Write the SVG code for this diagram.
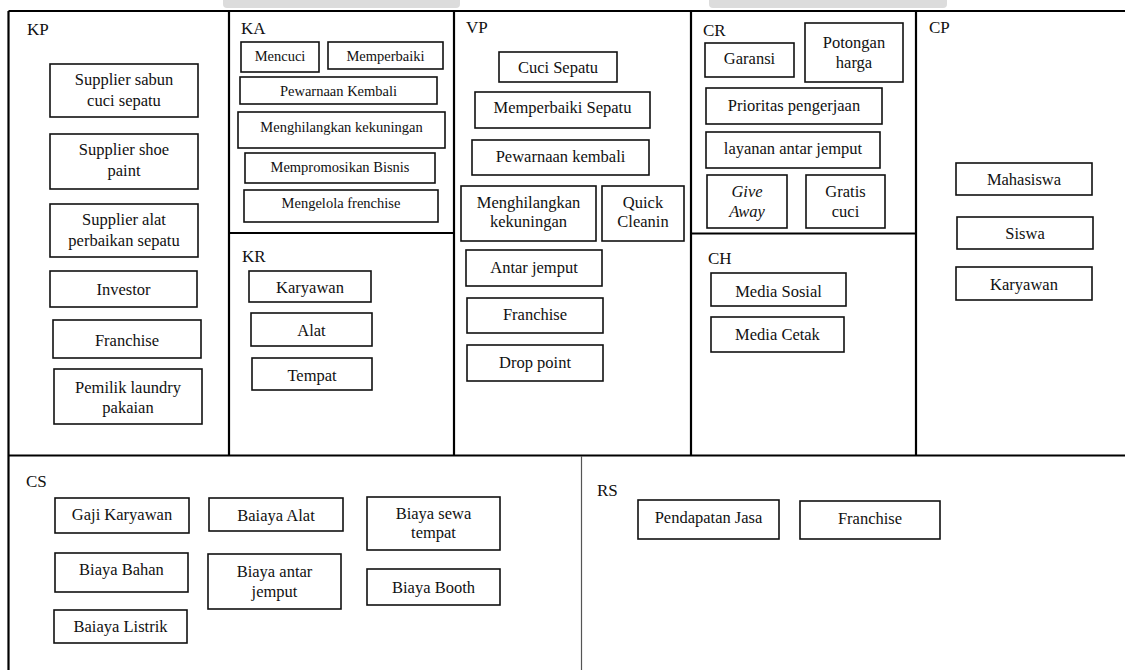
<svg xmlns="http://www.w3.org/2000/svg" width="1125" height="670" viewBox="0 0 1125 670">
<style>
.bg{fill:#fff}
.tab{fill:#dcdcdc}
.grid{stroke:#000;stroke-width:2.2;fill:none}
.thin{stroke:#555;stroke-width:1.2;fill:none}
.box{fill:#fff;stroke:#111;stroke-width:1.6}
.t{font-family:"Liberation Serif","Times New Roman",serif;font-size:16.5px;fill:#111;text-anchor:middle}
.s{font-size:14.5px}
.i{font-style:italic}
.lbl{font-family:"Liberation Serif","Times New Roman",serif;font-size:17px;fill:#111}
</style>
<rect class="bg" x="0" y="0" width="1125" height="670"/>
<path class="tab" d="M223 0H460V4Q460 8 456 8H227Q223 8 223 4Z"/>
<path class="tab" d="M709 0H947V4Q947 8 943 8H713Q709 8 709 4Z"/>
<g id="grid">
<path class="grid" d="M8.5 11H1125M8.5 11V670M8.5 455.5H1125M229 11V455.5M454 11V455.5M691 11V455.5M916 11V455.5M229 233H454M691 233.5H916"/>
<path class="thin" d="M581.5 456V670"/>
</g>
<g id="labels">
<text class="lbl" x="27" y="35">KP</text>
<text class="lbl" x="241" y="34">KA</text>
<text class="lbl" x="466" y="33">VP</text>
<text class="lbl" x="703" y="36">CR</text>
<text class="lbl" x="929" y="33">CP</text>
<text class="lbl" x="242" y="262">KR</text>
<text class="lbl" x="708" y="264">CH</text>
<text class="lbl" x="26" y="487">CS</text>
<text class="lbl" x="597" y="496">RS</text>
</g>
<g id="connectors"/>
<g id="kp-1"><rect class="box" x="50" y="64" width="148" height="53"/><text class="t" x="124" y="85">Supplier sabun</text><text class="t" x="124" y="106">cuci sepatu</text></g>
<g id="kp-2"><rect class="box" x="50" y="134" width="148" height="55"/><text class="t" x="124" y="155">Supplier shoe</text><text class="t" x="124" y="176">paint</text></g>
<g id="kp-3"><rect class="box" x="50" y="204" width="148" height="53"/><text class="t" x="124" y="225">Supplier alat</text><text class="t" x="124" y="246">perbaikan sepatu</text></g>
<g id="kp-4"><rect class="box" x="50" y="271" width="147" height="36"/><text class="t" x="123.5" y="295">Investor</text></g>
<g id="kp-5"><rect class="box" x="53" y="320" width="148" height="38"/><text class="t" x="127" y="345.5">Franchise</text></g>
<g id="kp-6"><rect class="box" x="54" y="369" width="148" height="55"/><text class="t" x="128" y="393">Pemilik laundry</text><text class="t" x="128" y="413">pakaian</text></g>
<g id="ka-1"><rect class="box" x="241" y="42" width="78" height="30"/><text class="t s" x="280" y="61">Mencuci</text></g>
<g id="ka-2"><rect class="box" x="328" y="42" width="115" height="27"/><text class="t s" x="385.5" y="61">Memperbaiki</text></g>
<g id="ka-3"><rect class="box" x="240" y="77" width="197" height="27"/><text class="t s" x="338.5" y="96">Pewarnaan Kembali</text></g>
<g id="ka-4"><rect class="box" x="238" y="112" width="207" height="36"/><text class="t s" x="341.5" y="132">Menghilangkan kekuningan</text></g>
<g id="ka-5"><rect class="box" x="245" y="153" width="190" height="30"/><text class="t s" x="340" y="172">Mempromosikan Bisnis</text></g>
<g id="ka-6"><rect class="box" x="244" y="190" width="194" height="32"/><text class="t s" x="341" y="208">Mengelola frenchise</text></g>
<g id="kr-1"><rect class="box" x="249" y="271" width="122" height="31"/><text class="t" x="310" y="293">Karyawan</text></g>
<g id="kr-2"><rect class="box" x="251" y="313" width="121" height="33"/><text class="t" x="311.5" y="336">Alat</text></g>
<g id="kr-3"><rect class="box" x="252" y="358" width="120" height="32"/><text class="t" x="312" y="381">Tempat</text></g>
<g id="vp-1"><rect class="box" x="499" y="52" width="118" height="30"/><text class="t" x="558" y="73">Cuci Sepatu</text></g>
<g id="vp-2"><rect class="box" x="475" y="92" width="175" height="36"/><text class="t" x="562.5" y="113">Memperbaiki Sepatu</text></g>
<g id="vp-3"><rect class="box" x="472" y="140" width="177" height="35"/><text class="t" x="560.5" y="162">Pewarnaan kembali</text></g>
<g id="vp-4"><rect class="box" x="461" y="186" width="135" height="55"/><text class="t" x="528.5" y="208">Menghilangkan</text><text class="t" x="528.5" y="227">kekuningan</text></g>
<g id="vp-5"><rect class="box" x="602" y="186" width="82" height="55"/><text class="t" x="643" y="208">Quick</text><text class="t" x="643" y="227">Cleanin</text></g>
<g id="vp-6"><rect class="box" x="466" y="250" width="136" height="36"/><text class="t" x="534" y="273">Antar jemput</text></g>
<g id="vp-7"><rect class="box" x="467" y="298" width="136" height="35"/><text class="t" x="535" y="320">Franchise</text></g>
<g id="vp-8"><rect class="box" x="467" y="345" width="136" height="36"/><text class="t" x="535" y="368">Drop point</text></g>
<g id="cr-1"><rect class="box" x="705" y="43" width="89" height="34"/><text class="t" x="749.5" y="64">Garansi</text></g>
<g id="cr-2"><rect class="box" x="805" y="23" width="98" height="59"/><text class="t" x="854" y="48">Potongan</text><text class="t" x="854" y="68">harga</text></g>
<g id="cr-3"><rect class="box" x="706" y="88" width="176" height="36"/><text class="t" x="794" y="111">Prioritas pengerjaan</text></g>
<g id="cr-4"><rect class="box" x="706" y="132" width="174" height="36"/><text class="t" x="793" y="154">layanan antar jemput</text></g>
<g id="cr-5"><rect class="box" x="707" y="175" width="80" height="53"/><text class="t i" x="747" y="197">Give</text><text class="t i" x="747" y="217">Away</text></g>
<g id="cr-6"><rect class="box" x="806" y="175" width="79" height="53"/><text class="t" x="845.5" y="197">Gratis</text><text class="t" x="845.5" y="217">cuci</text></g>
<g id="ch-1"><rect class="box" x="711" y="273" width="135" height="33"/><text class="t" x="778.5" y="296.5">Media Sosial</text></g>
<g id="ch-2"><rect class="box" x="711" y="317" width="133" height="35"/><text class="t" x="777.5" y="339.5">Media Cetak</text></g>
<g id="cp-1"><rect class="box" x="956" y="163" width="136" height="32"/><text class="t" x="1024" y="184.5">Mahasiswa</text></g>
<g id="cp-2"><rect class="box" x="957" y="217" width="136" height="32"/><text class="t" x="1025" y="239">Siswa</text></g>
<g id="cp-3"><rect class="box" x="956" y="267" width="136" height="33"/><text class="t" x="1024" y="290">Karyawan</text></g>
<g id="cs-1"><rect class="box" x="55" y="498" width="134" height="35"/><text class="t" x="122" y="520">Gaji Karyawan</text></g>
<g id="cs-2"><rect class="box" x="209" y="498" width="134" height="33"/><text class="t" x="276" y="520.5">Baiaya Alat</text></g>
<g id="cs-3"><rect class="box" x="367" y="497" width="133" height="53"/><text class="t" x="433.5" y="519">Biaya sewa</text><text class="t" x="433.5" y="537.5">tempat</text></g>
<g id="cs-4"><rect class="box" x="55" y="553" width="133" height="39"/><text class="t" x="121.5" y="575">Biaya Bahan</text></g>
<g id="cs-5"><rect class="box" x="208" y="554" width="133" height="55"/><text class="t" x="274.5" y="577">Biaya antar</text><text class="t" x="274.5" y="597">jemput</text></g>
<g id="cs-6"><rect class="box" x="367" y="569" width="133" height="36"/><text class="t" x="433.5" y="593">Biaya Booth</text></g>
<g id="cs-7"><rect class="box" x="54" y="610" width="133" height="33"/><text class="t" x="120.5" y="632">Baiaya Listrik</text></g>
<g id="rs-1"><rect class="box" x="638" y="500" width="141" height="39"/><text class="t" x="708.5" y="523">Pendapatan Jasa</text></g>
<g id="rs-2"><rect class="box" x="800" y="501" width="140" height="38"/><text class="t" x="870" y="523.5">Franchise</text></g>
</svg>
